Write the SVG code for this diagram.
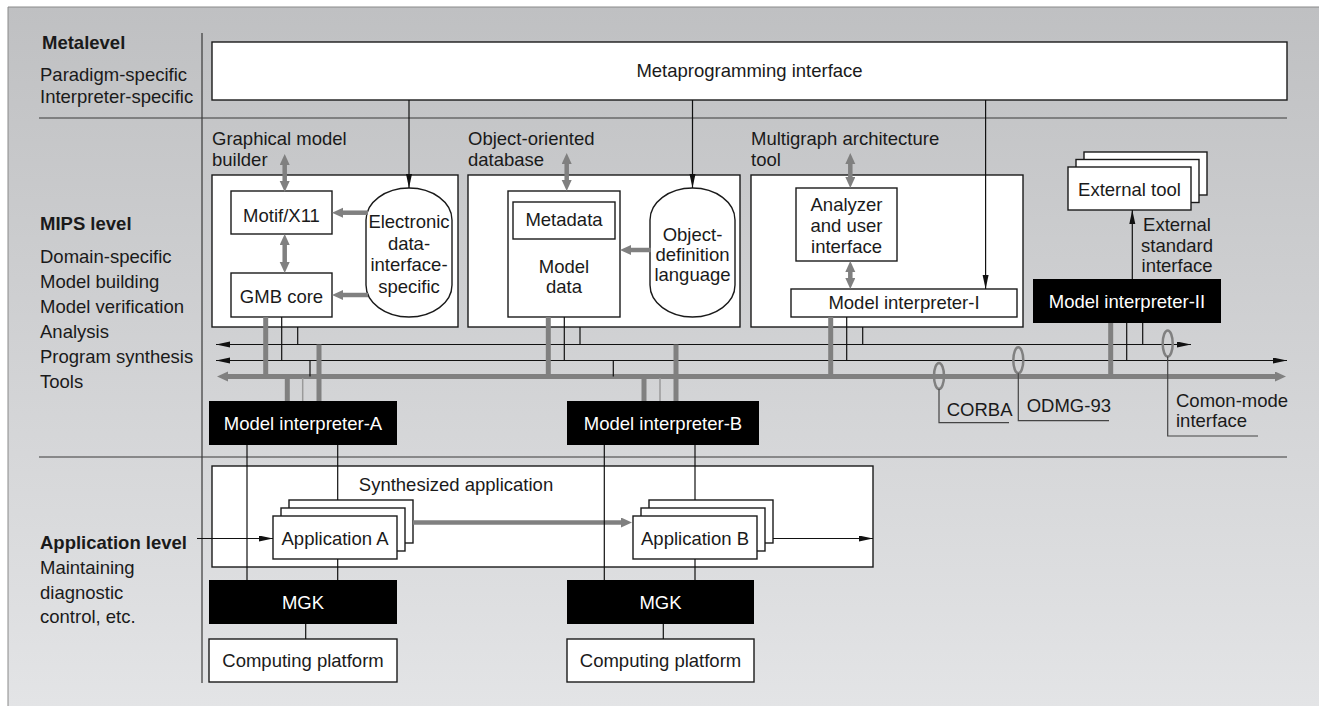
<svg xmlns="http://www.w3.org/2000/svg" width="1319" height="706" viewBox="0 0 1319 706">
  <defs>
    <linearGradient id="bg" x1="0" y1="0" x2="0" y2="1">
      <stop offset="0" stop-color="#bfc0c2"/>
      <stop offset="1" stop-color="#e3e4e6"/>
    </linearGradient>
    <!-- black arrowhead, tip at the line end -->
    <marker id="ba" markerUnits="userSpaceOnUse" markerWidth="15" markerHeight="7" refX="14" refY="3" orient="auto-start-reverse">
      <path d="M0,0 L14,3 L0,6 z" fill="#111"/>
    </marker>
    <!-- grey arrowhead, base at the line end -->
    <marker id="ga" markerUnits="userSpaceOnUse" markerWidth="12" markerHeight="11" refX="0" refY="5" orient="auto-start-reverse">
      <path d="M0,0 L11,5 L0,10 z" fill="#808080"/>
    </marker>
    <style>
      text { font-family: "Liberation Sans", Arial, sans-serif; font-size: 18.5px; fill: #1a1a1a; }
      .b { font-weight: bold; }
      .m { text-anchor: middle; }
      .w { fill: #ffffff; }
      .box { fill: #ffffff; stroke: #1a1a1a; stroke-width: 1.4; }
      .blk { fill: #000000; }
      .sep { stroke: #3a3a3a; stroke-width: 1.2; fill: none; }
      .thin { stroke: #111; stroke-width: 1.2; fill: none; }
      .lt { stroke: #9a9a9a; stroke-width: 1.5; fill: none; }
      .thk { stroke: #808080; stroke-width: 5; fill: none; }
      .gar { stroke: #808080; stroke-width: 4.5; fill: none; }
      .ring { stroke: #808080; stroke-width: 2.5; fill: none; }
      .lead { stroke: #444; stroke-width: 1.2; fill: none; }
    </style>
  </defs>

  <!-- background panel -->
  <rect x="0" y="0" width="1319" height="706" fill="#ffffff"/>
  <rect x="8" y="7" width="1311" height="699" fill="url(#bg)"/>
  <path d="M8,7 H1319 M8,7 V706" stroke="#8a8a8a" stroke-width="1" fill="none"/>

  <!-- level separators -->
  <g id="separators">
    <path class="sep" d="M39,118 H1287 M39,457 H1287 M202,33 V683"/>
  </g>

  <!-- level captions -->
  <g id="level-labels">
    <text class="b" x="42" y="49">Metalevel</text>
    <text x="40" y="81">Paradigm-specific</text>
    <text x="40" y="103">Interpreter-specific</text>
    <text class="b" x="40" y="230">MIPS level</text>
    <text x="40" y="263">Domain-specific</text>
    <text x="40" y="288">Model building</text>
    <text x="40" y="313">Model verification</text>
    <text x="40" y="338">Analysis</text>
    <text x="40" y="363">Program synthesis</text>
    <text x="40" y="388">Tools</text>
    <text class="b" x="40" y="549">Application level</text>
    <text x="40" y="574">Maintaining</text>
    <text x="40" y="599">diagnostic</text>
    <text x="40" y="623">control, etc.</text>
  </g>

  <g id="metaprogramming-interface">
    <rect class="box" x="212" y="42" width="1075" height="58"/>
    <text class="m" x="749.5" y="77">Metaprogramming interface</text>
  </g>

  <g id="graphical-model-builder">
    <text x="212" y="145">Graphical model</text>
    <text x="212" y="166">builder</text>
    <rect class="box" x="212" y="175" width="246" height="152"/>
  </g>
  <g id="motif-x11">
    <rect class="box" x="231" y="191" width="101" height="43"/>
    <text class="m" x="281.5" y="221.5">Motif/X11</text>
  </g>
  <g id="gmb-core">
    <rect class="box" x="231" y="273" width="101" height="44"/>
    <text class="m" x="281.5" y="303">GMB core</text>
  </g>
  <g id="edi-specific">
    <rect class="box" x="366" y="188" width="86" height="129" rx="43" ry="32"/>
    <text class="m" x="409" y="228">Electronic</text>
    <text class="m" x="409" y="249.5">data-</text>
    <text class="m" x="409" y="271">interface-</text>
    <text class="m" x="409" y="292.5">specific</text>
  </g>

  <g id="object-oriented-database">
    <text x="468" y="145">Object-oriented</text>
    <text x="468" y="166">database</text>
    <rect class="box" x="468" y="175" width="272" height="152"/>
  </g>
  <g id="model-data">
    <rect class="box" x="508" y="191" width="112" height="126"/>
    <text class="m" x="564" y="273">Model</text>
    <text class="m" x="564" y="293">data</text>
  </g>
  <g id="metadata">
    <rect class="box" x="513" y="202" width="102" height="37"/>
    <text class="m" x="564" y="226">Metadata</text>
  </g>
  <g id="object-definition-language">
    <rect class="box" x="650" y="188" width="85" height="129" rx="42.5" ry="32"/>
    <text class="m" x="692.5" y="241">Object-</text>
    <text class="m" x="692.5" y="261">definition</text>
    <text class="m" x="692.5" y="281">language</text>
  </g>

  <g id="multigraph-architecture-tool">
    <text x="751" y="145">Multigraph architecture</text>
    <text x="751" y="166">tool</text>
    <rect class="box" x="751" y="175" width="272" height="152"/>
  </g>
  <g id="analyzer">
    <rect class="box" x="796" y="188" width="101" height="73"/>
    <text class="m" x="846.5" y="211">Analyzer</text>
    <text class="m" x="846.5" y="232">and user</text>
    <text class="m" x="846.5" y="253">interface</text>
  </g>
  <g id="model-interpreter-i">
    <rect class="box" x="791" y="289" width="226" height="28"/>
    <text class="m" x="904" y="309">Model interpreter-I</text>
  </g>

  <g id="external-tool">
    <rect class="box" x="1084" y="152" width="123" height="43"/>
    <rect class="box" x="1076" y="159.5" width="123" height="43"/>
    <rect class="box" x="1068" y="167" width="123" height="43"/>
    <text class="m" x="1129.5" y="196">External tool</text>
  </g>
  <g id="model-interpreter-ii">
    <rect class="blk" x="1033" y="279" width="188" height="44"/>
    <text class="m w" x="1127" y="308">Model interpreter-II</text>
  </g>

  <g id="model-interpreter-a">
    <rect class="blk" x="209" y="401" width="188" height="44"/>
    <text class="m w" x="303" y="430">Model interpreter-A</text>
  </g>
  <g id="model-interpreter-b">
    <rect class="blk" x="567" y="401" width="192" height="44"/>
    <text class="m w" x="663" y="430">Model interpreter-B</text>
  </g>

  <g id="synthesized-application">
    <rect class="box" x="212" y="466" width="661" height="101"/>
    <text class="m" x="456" y="490.5">Synthesized application</text>
  </g>
  <g id="application-a">
    <rect class="box" x="289" y="500" width="124" height="43"/>
    <rect class="box" x="281" y="508" width="124" height="43"/>
    <rect class="box" x="273" y="516" width="124" height="43"/>
    <text class="m" x="335" y="545">Application A</text>
  </g>
  <g id="application-b">
    <rect class="box" x="649" y="500" width="124" height="43"/>
    <rect class="box" x="641" y="508" width="124" height="43"/>
    <rect class="box" x="633" y="516" width="124" height="43"/>
    <text class="m" x="695" y="545">Application B</text>
  </g>

  <g id="mgk-a">
    <rect class="blk" x="209" y="580" width="188" height="44"/>
    <text class="m w" x="303" y="609">MGK</text>
  </g>
  <g id="mgk-b">
    <rect class="blk" x="567" y="580" width="187" height="44"/>
    <text class="m w" x="660.5" y="609">MGK</text>
  </g>
  <g id="computing-platform-a">
    <rect class="box" x="209" y="639" width="188" height="43"/>
    <text class="m" x="303" y="667">Computing platform</text>
  </g>
  <g id="computing-platform-b">
    <rect class="box" x="567" y="639" width="187" height="43"/>
    <text class="m" x="660.5" y="667">Computing platform</text>
  </g>

  <g id="connectors">
    <!-- metaprogramming interface links -->
    <path class="thin" d="M409,100 V188" marker-end="url(#ba)"/>
    <path class="thin" d="M692.5,100 V188" marker-end="url(#ba)"/>
    <path class="thin" d="M985.6,100 V289" marker-end="url(#ba)"/>

    <!-- grey two-way arrows -->
    <path class="gar" d="M284.7,165 V181" marker-start="url(#ga)" marker-end="url(#ga)"/>
    <path class="gar" d="M284.7,245 V262" marker-start="url(#ga)" marker-end="url(#ga)"/>
    <path class="gar" d="M566.7,164 V180" marker-start="url(#ga)" marker-end="url(#ga)"/>
    <path class="gar" d="M850.3,164 V177" marker-start="url(#ga)" marker-end="url(#ga)"/>
    <path class="gar" d="M850.3,272 V278" marker-start="url(#ga)" marker-end="url(#ga)"/>

    <!-- grey one-way arrows -->
    <path class="gar" d="M368,212.7 H343" marker-end="url(#ga)"/>
    <path class="gar" d="M368,295 H343" marker-end="url(#ga)"/>
    <path class="gar" d="M651,250 H631" marker-end="url(#ga)"/>
    <path class="gar" d="M413,522.5 H621" marker-end="url(#ga)"/>

    <!-- three-line bus -->
    <path class="thin" d="M216,344.5 H1191" marker-start="url(#ba)" marker-end="url(#ba)"/>
    <path class="thin" d="M216,360.5 H1287" marker-start="url(#ba)" marker-end="url(#ba)"/>
    <path class="thk" d="M228,376.5 H1275" marker-start="url(#ga)" marker-end="url(#ga)"/>

    <!-- bus taps: graphical model builder -->
    <path class="thk" d="M265.7,317 V376.5"/>
    <path class="thin" d="M281.7,317 V360.5 M297.7,327 V344.5"/>
    <!-- bus taps: object-oriented database -->
    <path class="thk" d="M548.3,317 V376.5"/>
    <path class="thin" d="M564.3,317 V360.5 M580,327 V344.5"/>
    <!-- bus taps: multigraph architecture tool -->
    <path class="thk" d="M830.7,317 V376.5"/>
    <path class="thin" d="M846.7,317 V360.5 M862.7,327 V344.5"/>
    <!-- bus taps: model interpreter-II -->
    <path class="thk" d="M1110.7,323 V376.5"/>
    <path class="thin" d="M1126.7,323 V360.5 M1142.7,323 V344.5"/>
    <!-- bus taps: model interpreter-A -->
    <path class="thk" d="M287.3,376.5 V401 M319,344.5 V401"/>
    <path class="lt" d="M302.7,378 V401"/>
    <path class="thin" d="M310,360.5 V376.5"/>
    <!-- bus taps: model interpreter-B -->
    <path class="thk" d="M644,376.5 V401 M676,344.5 V401"/>
    <path class="lt" d="M660,378 V401"/>
    <path class="thin" d="M613.3,360.5 V376.5"/>

    <!-- external standard interface -->
    <path class="thin" d="M1132.3,279 V210" marker-end="url(#ba)"/>

    <!-- interpreters to kernels and applications -->
    <path class="thin" d="M247,445 V580 M337.7,445 V500 M337.7,559 V580"/>
    <path class="thin" d="M604.3,445 V580 M695,445 V500 M695,559 V580"/>
    <path class="thin" d="M305.7,624 V639 M663.3,624 V639"/>

    <!-- application data flow -->
    <path class="thin" d="M197,538.5 H273" marker-end="url(#ba)"/>
    <path class="thin" d="M773,538.5 H873" marker-end="url(#ba)"/>
  </g>

  <!-- interface standards on the bus -->
  <g id="corba">
    <ellipse class="ring" cx="939" cy="376" rx="5" ry="13"/>
    <path class="lead" d="M939,389 V422.7 H1009"/>
    <text x="946.7" y="415.7">CORBA</text>
  </g>
  <g id="odmg-93">
    <ellipse class="ring" cx="1018.3" cy="360.3" rx="5" ry="13"/>
    <path class="lead" d="M1018.3,373.3 V420.7 H1109"/>
    <text x="1026.7" y="412.3">ODMG-93</text>
  </g>
  <g id="common-mode-interface">
    <ellipse class="ring" cx="1167.7" cy="343.5" rx="5" ry="13"/>
    <path class="lead" d="M1167.7,356.5 V436 H1258"/>
    <text x="1176" y="406.7">Comon-mode</text>
    <text x="1176" y="427.3">interface</text>
  </g>
  <g id="external-standard-interface-label">
    <text class="m" x="1177" y="231">External</text>
    <text class="m" x="1177" y="252">standard</text>
    <text class="m" x="1177" y="272">interface</text>
  </g>
</svg>
